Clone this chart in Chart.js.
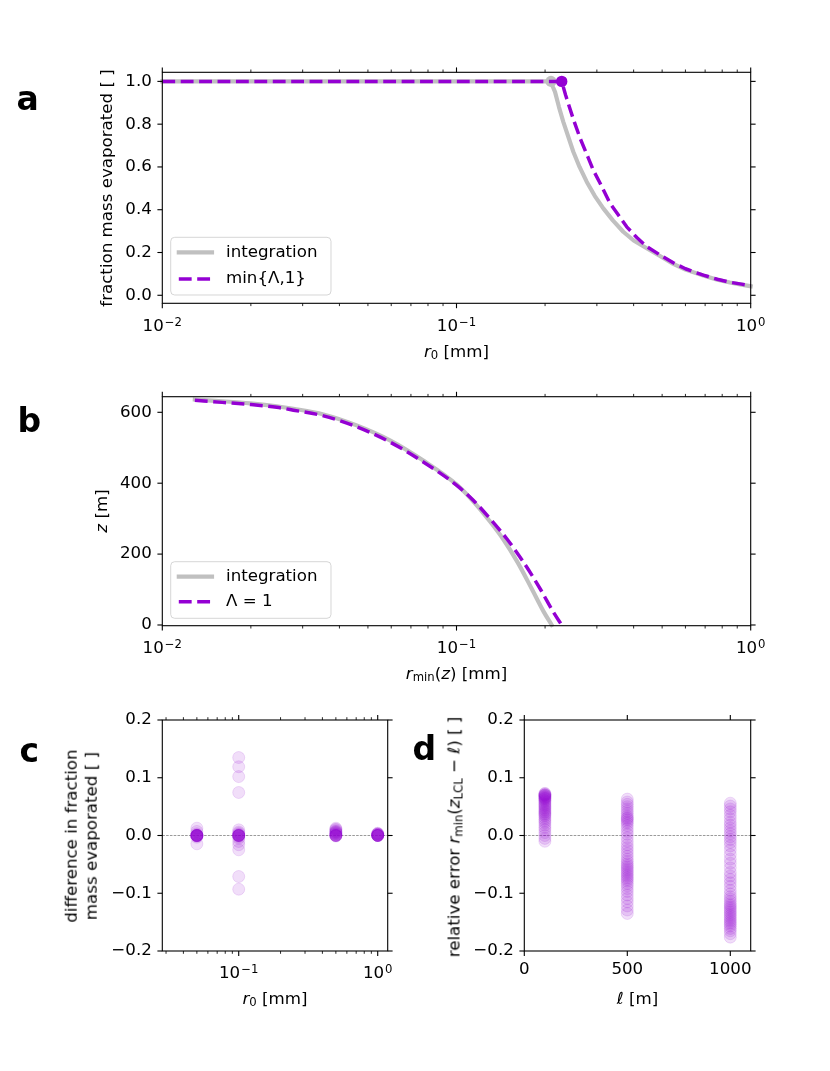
<!DOCTYPE html>
<html>
<head>
<meta charset="utf-8">
<script src="https://cdn.jsdelivr.net/npm/chart.js@4.4.1/dist/chart.umd.min.js"></script>
<style>
html,body{margin:0;padding:0;background:#fff;}
#wrap{position:relative;width:830px;height:1071px;overflow:hidden;font-family:'DejaVu Sans',sans-serif;color:#000;}
#wrap canvas{position:absolute;left:0;top:0;}
.lbl{position:absolute;font-size:16.67px;white-space:nowrap;line-height:normal;transform:translate(-50%,-50%);}
.rot{transform:translate(-50%,-50%) rotate(-90deg);}
.panel{position:absolute;font-weight:bold;font-size:33px;line-height:33px;}
sub{font-size:70%;vertical-align:-0.25em;line-height:0;}
</style>
</head>
<body>
<div id="wrap">
  <div class="panel" style="left:16.5px;top:82px;">a</div>
  <div class="panel" style="left:17.6px;top:403.8px;">b</div>
  <div class="panel" style="left:19.4px;top:734px;">c</div>
  <div class="panel" style="left:412.4px;top:732px;">d</div>

  <div class="lbl" style="left:456.5px;top:351px;"><i>r</i><sub>0</sub> [mm]</div>
  <div class="lbl rot" style="left:105.7px;top:188px;">fraction mass evaporated [ ]</div>

  <div class="lbl" style="left:456.5px;top:673px;"><i>r</i><sub>min</sub>(<i>z</i>) [mm]</div>
  <div class="lbl rot" style="left:101px;top:511px;"><i>z</i> [m]</div>

  <div class="lbl" style="left:275px;top:997.5px;"><i>r</i><sub>0</sub> [mm]</div>
  <div class="lbl rot" style="left:82px;top:836px;text-align:center;line-height:20.3px;">difference in fraction<br>mass evaporated [ ]</div>

  <div class="lbl" style="left:637.5px;top:997.5px;"><i>ℓ</i> [m]</div>
  <div class="lbl rot" style="left:453.5px;top:837px;">relative error <i>r</i><sub>min</sub>(<i>z</i><sub>LCL</sub> − <i>ℓ</i>) [ ]</div>
</div>
<script>
// ---------------- DATA ----------------
// Panel a: fraction of mass evaporated vs initial radius r0 [mm]
const aR0Integration   = [0.01, 0.05, 0.1, 0.2095, 0.2125, 0.2162, 0.223, 0.2307, 0.2495, 0.262, 0.277, 0.295, 0.3155, 0.34, 0.3688, 0.40, 0.443, 0.49, 0.5455, 0.60, 0.69, 0.77, 0.85, 0.93, 1.0];
const aFracIntegration = [1.0, 1.0, 1.0, 1.0, 0.975, 0.951, 0.88, 0.811, 0.671, 0.60, 0.531, 0.465, 0.4065, 0.35, 0.297, 0.256, 0.22, 0.185, 0.147, 0.12, 0.092, 0.073, 0.06, 0.05, 0.042];
const aR0Lambda        = [0.01, 0.05, 0.1, 0.2278, 0.235, 0.25, 0.263, 0.28, 0.2917, 0.31, 0.3324, 0.355, 0.379, 0.41, 0.443, 0.49, 0.5455, 0.60, 0.69, 0.77, 0.85, 0.93, 1.0];
const aFracLambda      = [1.0, 1.0, 1.0, 1.0, 0.935, 0.82, 0.735, 0.645, 0.585, 0.515, 0.43, 0.375, 0.32, 0.27, 0.228, 0.19, 0.152, 0.124, 0.094, 0.075, 0.061, 0.052, 0.045];
const aIntegrationDotIndex = 3;
const aLambdaDotIndex = 3;

// Panel b: height z [m] vs r_min(z) [mm]
const bRminIntegration = [0.0129, 0.016, 0.0199, 0.0245, 0.0279, 0.0353, 0.0458, 0.0594, 0.0771, 0.1002, 0.114, 0.13, 0.1436, 0.161, 0.18, 0.198, 0.2107];
const bZIntegration    = [636, 631, 625, 617, 610, 594, 563, 521, 464, 396, 349, 292, 244, 178, 103, 37, 0];
const bRminLambda      = [0.0129, 0.016, 0.0199, 0.0245, 0.0279, 0.0353, 0.0458, 0.0594, 0.0771, 0.1002, 0.114, 0.13, 0.148, 0.1687, 0.1922, 0.2133, 0.2278];
const bZLambda         = [634, 628, 622, 614, 606, 590, 559, 516, 460, 394, 352, 300, 244, 178, 103, 37, 0];

// Panel c: difference in fraction mass evaporated, per r0 [mm]
const cR0 = [0.05, 0.1, 0.5, 1.0];
const cDiff005 = [0.0127, 0.007, 0.003, 0.001, 0.0005, 0, 0, 0, 0, 0, 0, 0, 0, -0.0005, -0.001, -0.003, -0.0144];
const cDiff01  = [0.135, 0.119, 0.102, 0.0745, 0.0098, 0.006, 0.004, 0.002, 0.001, 0, 0, 0, 0, 0, 0, 0, -0.002, -0.0046, -0.0104, -0.016, -0.0248, -0.071, -0.093];
const cDiff05  = [0.0127, 0.011, 0.010, 0.008, 0.007, 0.006, 0.005, 0.004, 0.003, 0.002, 0.001, 0, 0, 0, 0, 0, -0.001];
const cDiff1   = [0.004, 0.003, 0.003, 0.002, 0.002, 0.001, 0.001, 0, 0, 0, 0, 0, 0, 0, 0];

// Panel d: relative error of r_min(z_LCL - l), per l [m]
const dEll = [100, 500, 1000];
const dErr100  = [0.073, 0.072, 0.071, 0.070, 0.070, 0.069, 0.068, 0.067, 0.066, 0.065, 0.064, 0.063, 0.061, 0.060, 0.058, 0.056, 0.054, 0.052, 0.050, 0.048, 0.046, 0.044, 0.042, 0.040, 0.038, 0.036, 0.034, 0.031, 0.028, 0.025, 0.022, 0.018, 0.014, 0.010, 0.005, 0.000, -0.005, -0.010];
const dErr500  = [0.063, 0.058, 0.054, 0.050, 0.046, 0.042, 0.038, 0.034, 0.031, 0.029, 0.027, 0.024, 0.021, 0.017, 0.012, 0.007, 0.002, -0.004, -0.010, -0.016, -0.021, -0.026, -0.031, -0.036, -0.041, -0.045, -0.049, -0.052, -0.055, -0.058, -0.061, -0.064, -0.067, -0.070, -0.073, -0.076, -0.079, -0.083, -0.087, -0.092, -0.097, -0.103, -0.109, -0.115, -0.122, -0.129, -0.135];
const dErr1000 = [0.056, 0.051, 0.046, 0.041, 0.035, 0.029, 0.023, 0.018, 0.013, 0.008, 0.003, -0.002, -0.007, -0.012, -0.018, -0.025, -0.033, -0.041, -0.048, -0.056, -0.064, -0.070, -0.076, -0.082, -0.088, -0.095, -0.101, -0.106, -0.110, -0.114, -0.118, -0.121, -0.124, -0.127, -0.130, -0.133, -0.136, -0.139, -0.142, -0.145, -0.148, -0.151, -0.154, -0.157, -0.161, -0.165, -0.170, -0.176];

// Tick values and labels
const logTicksAB = [0.01, 0.1, 1];
const logTickBase = '10';
const logTickExpAB = ['\u22122', '\u22121', '0'];
const aYTicks = [0, 0.2, 0.4, 0.6, 0.8, 1.0];
const aYTickLabels = ['0.0', '0.2', '0.4', '0.6', '0.8', '1.0'];
const bYTicks = [0, 200, 400, 600];
const bYTickLabels = ['0', '200', '400', '600'];
const cXTicks = [0.1, 1];
const cXTickExp = ['\u22121', '0'];
const cdYTicks = [-0.2, -0.1, 0, 0.1, 0.2];
const cdYTickLabels = ['\u22120.2', '\u22120.1', '0.0', '0.1', '0.2'];
const dXTicks = [0, 500, 1000];
const dXTickLabels = ['0', '500', '1000'];

// Series labels
const lblIntegration = 'integration';
const lblLambdaA = 'min{\u039B,1}';
const lblLambdaB = '\u039B = 1';

// ---------------- STYLE ----------------
const PURPLE = 'rgb(148,0,211)';
const PURPLE_A = 'rgba(148,0,211,0.13)';
const GRAY = '#c0c0c0';
const FONT = "'DejaVu Sans', sans-serif";
const FS = 16.67;

Chart.defaults.font.family = FONT;
Chart.defaults.font.size = FS;
Chart.defaults.color = '#000';

function logMinor(min, max) {
  const out = [];
  for (let d = Math.floor(Math.log10(min)); d <= Math.ceil(Math.log10(max)); d++) {
    for (let m = 2; m <= 9; m++) {
      const v = m * Math.pow(10, d);
      if (v >= min && v <= max) out.push(v);
    }
  }
  return out;
}

const mplPlugin = {
  id: 'mpl',
  beforeDatasetsDraw(chart, args, o) {
    if (!o || !o.zeroLine) return;
    const {ctx, chartArea: a} = chart;
    const y = chart.scales.y.getPixelForValue(0);
    ctx.save();
    ctx.strokeStyle = '#808080';
    ctx.lineWidth = 0.8;
    ctx.setLineDash([2.6, 1.2]);
    ctx.beginPath(); ctx.moveTo(a.left, y); ctx.lineTo(a.right, y); ctx.stroke();
    ctx.restore();
  },
  afterDraw(chart, args, o) {
    if (!o || !o.xMajor) return;
    const {ctx, chartArea: a} = chart;
    const xs = chart.scales.x, ys = chart.scales.y;
    ctx.save();
    ctx.setLineDash([]);
    ctx.strokeStyle = '#000';
    ctx.lineWidth = 1.1;
    ctx.strokeRect(a.left, a.top, a.right - a.left, a.bottom - a.top);
    const seg = (x1, y1, x2, y2) => { ctx.beginPath(); ctx.moveTo(x1, y1); ctx.lineTo(x2, y2); ctx.stroke(); };
    const MAJ = 4.9, MIN = 2.8;
    ctx.lineWidth = 1.1;
    o.xMajor.forEach(v => { const x = xs.getPixelForValue(v); seg(x, a.bottom, x, a.bottom + MAJ); seg(x, a.top, x, a.top - MAJ); });
    o.yMajor.forEach(v => { const y = ys.getPixelForValue(v); seg(a.left, y, a.left - MAJ, y); seg(a.right, y, a.right + MAJ, y); });
    ctx.lineWidth = 0.85;
    (o.xMinor || []).forEach(v => { const x = xs.getPixelForValue(v); seg(x, a.bottom, x, a.bottom + MIN); seg(x, a.top, x, a.top - MIN); });
    // power-of-ten tick labels with superscript exponent
    if (o.powLabels) {
      ctx.fillStyle = '#000';
      ctx.textAlign = 'left';
      ctx.textBaseline = 'alphabetic';
      const base = a.bottom + 27.2;
      o.xMajor.forEach((v, i) => {
        const x = xs.getPixelForValue(v);
        const exp = o.powLabels[i];
        ctx.font = FS + 'px ' + FONT;
        const wb = ctx.measureText(logTickBase).width;
        ctx.font = (FS * 0.7) + 'px ' + FONT;
        const we = ctx.measureText(exp).width;
        const x0 = x - (wb + 1 + we) / 2;
        ctx.font = FS + 'px ' + FONT;
        ctx.fillText(logTickBase, x0, base);
        ctx.font = (FS * 0.7) + 'px ' + FONT;
        ctx.fillText(exp, x0 + wb + 1, base - 4.8);
      });
    }
    if (o.legend) {
      const L = o.legend;
      ctx.beginPath();
      if (ctx.roundRect) ctx.roundRect(L.x, L.y, L.w, L.h, 4); else ctx.rect(L.x, L.y, L.w, L.h);
      ctx.fillStyle = 'rgba(255,255,255,0.8)';
      ctx.fill();
      ctx.strokeStyle = 'rgba(204,204,204,0.8)';
      ctx.lineWidth = 1;
      ctx.stroke();
      ctx.font = FS + 'px ' + FONT;
      ctx.textBaseline = 'middle';
      ctx.textAlign = 'left';
      L.rows.forEach((ry, i) => {
        const ds = chart.data.datasets[L.order[i]];
        ctx.save();
        ctx.strokeStyle = ds.borderColor;
        ctx.lineWidth = ds.borderWidth;
        ctx.lineCap = ds.borderCapStyle || 'butt';
        ctx.setLineDash(ds.borderDash || []);
        ctx.beginPath(); ctx.moveTo(L.hx0, ry); ctx.lineTo(L.hx1, ry); ctx.stroke();
        ctx.restore();
        ctx.fillStyle = '#000';
        ctx.fillText(ds.label, L.tx, ry);
      });
    }
    ctx.restore();
  }
};
Chart.register(mplPlugin);

function xAxis(type, min, max, ticks, labels, pad) {
  return {
    type, min, max, position: 'bottom',
    grid: {display: false, drawTicks: false},
    border: {display: false},
    afterBuildTicks: s => { s.ticks = ticks.map(v => ({value: v})); },
    afterFit: s => { s.height = 40; },
    ticks: {padding: pad, autoSkip: false, maxRotation: 0, minRotation: 0, color: '#000',
      font: {size: FS, family: FONT},
      callback: v => { if (!labels) return ''; const i = ticks.indexOf(v); return i >= 0 ? labels[i] : ''; }}
  };
}
function yAxis(min, max, ticks, labels) {
  return {
    type: 'linear', min, max, position: 'left',
    grid: {display: false, drawTicks: false},
    border: {display: false},
    afterBuildTicks: s => { s.ticks = ticks.map(v => ({value: v})); },
    afterFit: s => { s.width = 50; },
    ticks: {padding: 10.5, autoSkip: false, color: '#000', font: {size: FS, family: FONT},
      callback: v => { const i = ticks.indexOf(v); return i >= 0 ? labels[i] : ''; }}
  };
}
function zip(xs, ys) { return xs.map((x, i) => ({x, y: ys[i]})); }
function col(x, ys) { return ys.map(y => ({x, y})); }

const wrap = document.getElementById('wrap');
function makeCanvas() {
  const c = document.createElement('canvas');
  c.width = 830; c.height = 1071;
  wrap.insertBefore(c, wrap.firstChild);
  return c;
}
const baseOpts = {responsive: false, animation: false, events: [], devicePixelRatio: 1};

function lineDatasets(xG, yG, dotG, xP, yP, dotP, lblP, smooth) {
  const interp = smooth ? 'monotone' : 'default';
  return [
    {label: lblIntegration, data: zip(xG, yG), showLine: true, borderColor: GRAY, borderWidth: 4.17,
     borderCapStyle: 'square', borderJoinStyle: 'round', tension: 0, cubicInterpolationMode: interp, order: 2,
     pointRadius: ctx => ctx.dataIndex === dotG ? 5.6 : 0, pointBackgroundColor: GRAY, pointBorderWidth: 0, clip: 3},
    {label: lblP, data: zip(xP, yP), showLine: true, borderColor: PURPLE, borderWidth: 3.47,
     borderDash: [12.85, 5.56], borderCapStyle: 'butt', borderJoinStyle: 'round', tension: 0, cubicInterpolationMode: interp, order: 1,
     pointRadius: ctx => ctx.dataIndex === dotP ? 5.7 : 0, pointBackgroundColor: PURPLE, pointBorderWidth: 0, clip: 3}
  ];
}

// Panel a
new Chart(makeCanvas(), {
  type: 'scatter',
  data: {datasets: lineDatasets(aR0Integration, aFracIntegration, aIntegrationDotIndex, aR0Lambda, aFracLambda, aLambdaDotIndex, lblLambdaA, false)},
  options: Object.assign({}, baseOpts, {
    layout: {padding: {left: 112.3, right: 79.3, top: 72.3, bottom: 727.7}},
    scales: {x: xAxis('logarithmic', 0.01, 1, logTicksAB, null, 9), y: yAxis(-0.0375, 1.0425, aYTicks, aYTickLabels)},
    plugins: {legend: {display: false}, tooltip: {enabled: false},
      mpl: {xMajor: logTicksAB, xMinor: logMinor(0.01, 1), yMajor: aYTicks, powLabels: logTickExpAB,
        legend: {x: 170.7, y: 237.3, w: 160.3, h: 57.7, rows: [252.3, 279], order: [0, 1], hx0: 178.8, hx1: 212, tx: 226}}}
  })
});

// Panel b
new Chart(makeCanvas(), {
  type: 'scatter',
  data: {datasets: lineDatasets(bRminIntegration, bZIntegration, -1, bRminLambda, bZLambda, -1, lblLambdaB, true)},
  options: Object.assign({}, baseOpts, {
    layout: {padding: {left: 112.3, right: 79.3, top: 396.7, bottom: 405.3}},
    scales: {x: xAxis('logarithmic', 0.01, 1, logTicksAB, null, 9), y: yAxis(-2, 644, bYTicks, bYTickLabels)},
    plugins: {legend: {display: false}, tooltip: {enabled: false},
      mpl: {xMajor: logTicksAB, xMinor: logMinor(0.01, 1), yMajor: bYTicks, powLabels: logTickExpAB,
        legend: {x: 170.7, y: 561.7, w: 160.3, h: 56.6, rows: [576.7, 601.7], order: [0, 1], hx0: 178.8, hx1: 212, tx: 226}}}
  })
});

// Panel c
const scatterStyle = {pointRadius: 6, pointBorderWidth: 1, pointBackgroundColor: PURPLE_A, pointBorderColor: PURPLE_A, showLine: false};
new Chart(makeCanvas(), {
  type: 'scatter',
  data: {datasets: [
    Object.assign({label: 'r0=' + cR0[0], data: col(cR0[0], cDiff005)}, scatterStyle),
    Object.assign({label: 'r0=' + cR0[1], data: col(cR0[1], cDiff01)}, scatterStyle),
    Object.assign({label: 'r0=' + cR0[2], data: col(cR0[2], cDiff05)}, scatterStyle),
    Object.assign({label: 'r0=' + cR0[3], data: col(cR0[3], cDiff1)}, scatterStyle)
  ]},
  options: Object.assign({}, baseOpts, {
    layout: {padding: {left: 112.3, right: 442.3, top: 720, bottom: 80}},
    scales: {x: xAxis('logarithmic', 0.0282, 1.18, cXTicks, null, 9), y: yAxis(-0.2, 0.2, cdYTicks, cdYTickLabels)},
    plugins: {legend: {display: false}, tooltip: {enabled: false},
      mpl: {zeroLine: true, xMajor: cXTicks, xMinor: logMinor(0.0282, 1.18), yMajor: cdYTicks, powLabels: cXTickExp}}
  })
});

// Panel d
new Chart(makeCanvas(), {
  type: 'scatter',
  data: {datasets: [
    Object.assign({label: 'l=' + dEll[0], data: col(dEll[0], dErr100)}, scatterStyle),
    Object.assign({label: 'l=' + dEll[1], data: col(dEll[1], dErr500)}, scatterStyle),
    Object.assign({label: 'l=' + dEll[2], data: col(dEll[2], dErr1000)}, scatterStyle)
  ]},
  options: Object.assign({}, baseOpts, {
    layout: {padding: {left: 474.3, right: 79.3, top: 720, bottom: 80}},
    scales: {x: xAxis('linear', 0, 1099, dXTicks, dXTickLabels, 9), y: yAxis(-0.2, 0.2, cdYTicks, cdYTickLabels)},
    plugins: {legend: {display: false}, tooltip: {enabled: false},
      mpl: {zeroLine: true, xMajor: dXTicks, yMajor: cdYTicks}}
  })
});
</script>
</body>
</html>
